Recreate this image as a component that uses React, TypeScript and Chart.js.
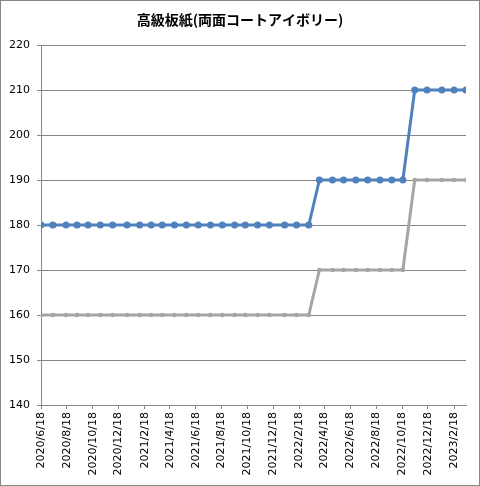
import React, { useEffect, useRef } from "react";
import { Chart, registerables } from "chart.js";

Chart.register(...registerables);

const titleText = "高級板紙(両面コートアイボリー)";

const pointDates = [
  "2020/6/18", "2020/7/16", "2020/8/16", "2020/9/11", "2020/10/7", "2020/11/5",
  "2020/12/4", "2021/1/7", "2021/2/6", "2021/3/5", "2021/3/31", "2021/4/29",
  "2021/5/27", "2021/6/24", "2021/7/23", "2021/8/20", "2021/9/18", "2021/10/13",
  "2021/11/11", "2021/12/9", "2022/1/14", "2022/2/11", "2022/3/12", "2022/4/6",
  "2022/5/7", "2022/6/2", "2022/7/1", "2022/7/29", "2022/8/27", "2022/9/24",
  "2022/10/20", "2022/11/17", "2022/12/16", "2023/1/20", "2023/2/18", "2023/3/18",
];

const blueValues = [
  180, 180, 180, 180, 180, 180, 180, 180, 180, 180, 180, 180,
  180, 180, 180, 180, 180, 180, 180, 180, 180, 180, 180, 190,
  190, 190, 190, 190, 190, 190, 190, 210, 210, 210, 210, 210,
];

const grayValues = [
  160, 160, 160, 160, 160, 160, 160, 160, 160, 160, 160, 160,
  160, 160, 160, 160, 160, 160, 160, 160, 160, 160, 160, 170,
  170, 170, 170, 170, 170, 170, 170, 190, 190, 190, 190, 190,
];

const tickLabels = [
  "2020/6/18", "2020/8/18", "2020/10/18", "2020/12/18", "2021/2/18", "2021/4/18",
  "2021/6/18", "2021/8/18", "2021/10/18", "2021/12/18", "2022/2/18", "2022/4/18",
  "2022/6/18", "2022/8/18", "2022/10/18", "2022/12/18", "2023/2/18",
];

const startDate = "2020/6/18";
const endDate = "2023/3/18";

const dayOf = (s: string) => {
  const [y, m, d] = s.split("/").map(Number);
  const [y0, m0, d0] = startDate.split("/").map(Number);
  return Math.round((Date.UTC(y, m - 1, d) - Date.UTC(y0, m0 - 1, d0)) / 86400000);
};

const titlePlugin = {
  id: "centerTitle",
  afterDraw(chart: any) {
    const ctx = chart.ctx;
    ctx.save();
    ctx.fillStyle = "#000";
    ctx.font = "bold 14px 'Noto Sans CJK JP', sans-serif";
    ctx.textAlign = "center";
    ctx.textBaseline = "middle";
    ctx.fillText(titleText, chart.width / 2, 18.5);
    ctx.restore();
  },
};

export default function App() {
  const ref = useRef<HTMLCanvasElement | null>(null);
  useEffect(() => {
    document.body.style.margin = "0";
    if (!ref.current) return;
    const labelByDay: Record<number, string> = {};
    tickLabels.forEach((t) => (labelByDay[dayOf(t)] = t));
    const font = { family: "'DejaVu Sans', sans-serif", size: 11 };
    const chart = new Chart(ref.current, {
      type: "line",
      plugins: [titlePlugin],
      data: {
        datasets: [
          {
            label: "A",
            data: pointDates.map((d, i) => ({ x: dayOf(d), y: blueValues[i] })),
            borderColor: "#4F81BD",
            backgroundColor: "#4F81BD",
            borderWidth: 3,
            pointRadius: 3.5,
            pointBorderWidth: 0,
            tension: 0,
          },
          {
            label: "B",
            data: pointDates.map((d, i) => ({ x: dayOf(d), y: grayValues[i] })),
            borderColor: "#A5A5A5",
            backgroundColor: "#A5A5A5",
            borderWidth: 3,
            pointRadius: 2.2,
            pointBorderWidth: 0,
            tension: 0,
          },
        ],
      },
      options: {
        animation: false,
        responsive: false,
        devicePixelRatio: 1,
        layout: { padding: { left: 0, right: 13, top: 44, bottom: 0 } },
        plugins: {
          legend: { display: false },
          tooltip: { enabled: false },
          title: { display: false },
        },
        scales: {
          x: {
            type: "linear",
            min: 0,
            max: dayOf(endDate),
            afterBuildTicks: (axis: any) => {
              axis.ticks = tickLabels.map((t) => ({ value: dayOf(t) }));
            },
            afterFit: (axis: any) => {
              axis.height = 80;
            },
            grid: {
              drawOnChartArea: false,
              drawTicks: true,
              tickLength: 4,
              color: "#868686",
            },
            border: { display: true, color: "#868686", width: 1 },
            ticks: {
              autoSkip: false,
              minRotation: 90,
              maxRotation: 90,
              padding: 3,
              color: "#000",
              font,
              callback: (v: any) => labelByDay[v as number] ?? "",
            },
          },
          y: {
            min: 140,
            max: 220,
            afterFit: (axis: any) => {
              axis.width = 40;
            },
            grid: { color: "#868686", tickLength: 4, lineWidth: 1 },
            border: { display: true, color: "#868686", width: 1 },
            ticks: { stepSize: 10, padding: 7, color: "#000", font },
          },
        },
      },
    });
    return () => chart.destroy();
  }, []);
  return (
    <div
      style={{
        width: 480,
        height: 486,
        boxSizing: "border-box",
        border: "1px solid #868686",
        background: "#fff",
      }}
    >
      <canvas ref={ref} width={478} height={484} style={{ display: "block" }} />
    </div>
  );
}
